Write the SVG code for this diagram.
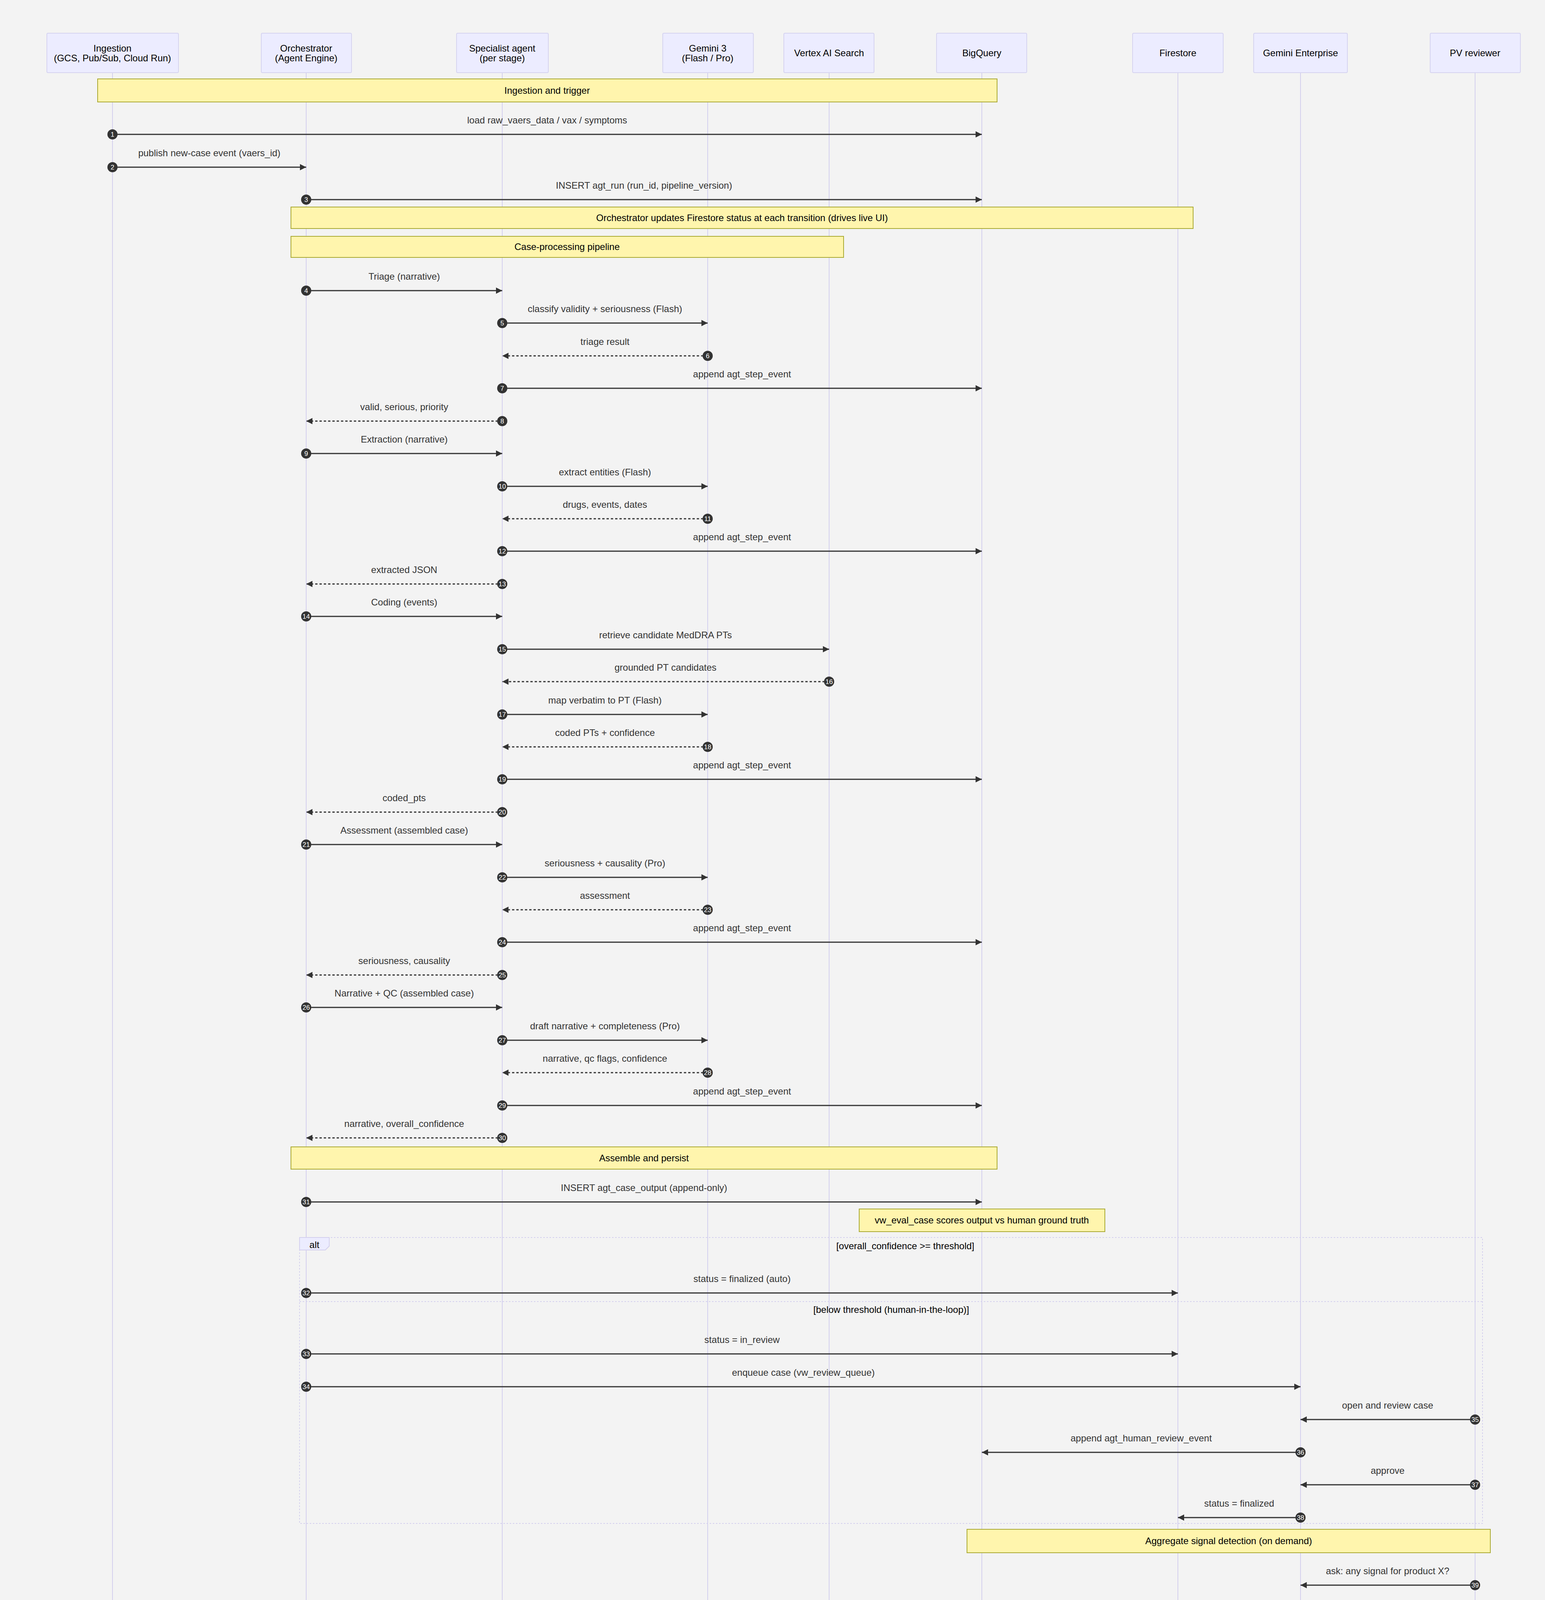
<svg xmlns="http://www.w3.org/2000/svg" width="3956" height="4838" viewBox="0 0 3956 4838">
<style>
text{font-family:"Liberation Sans",Arial,sans-serif;font-size:24px;fill:#333;text-anchor:middle}
.actor{fill:#ececff;stroke:#d6d4f0;stroke-width:2}
.atext{fill:#000}
.life{stroke:#d4d0ee;stroke-width:2}
.note{fill:#fff5ad;stroke:#aaaa33;stroke-width:2}
.ntext{fill:#000}
.m{stroke:#333;stroke-width:3;fill:none;marker-end:url(#ah)}
.d{stroke-dasharray:6 5}
.num{fill:#333}
.nt{fill:#fff;font-size:17px}
.frame{fill:none;stroke:#d4d0ee;stroke-width:2;stroke-dasharray:4 4}
</style>
<defs>
<marker id="ah" markerUnits="userSpaceOnUse" markerWidth="18" markerHeight="18" refX="16" refY="8" orient="auto"><path d="M0,0 L16,8 L0,16 z" fill="#333"/></marker>
</defs>
<rect width="3956" height="4838" fill="#f3f3f3"/>
<g id="lifelines">
<line class="life" x1="288" y1="186" x2="288" y2="4677"/>
<line class="life" x1="784" y1="186" x2="784" y2="4677"/>
<line class="life" x1="1286" y1="186" x2="1286" y2="4677"/>
<line class="life" x1="1812" y1="186" x2="1812" y2="4677"/>
<line class="life" x1="2123" y1="186" x2="2123" y2="4677"/>
<line class="life" x1="2514" y1="186" x2="2514" y2="4677"/>
<line class="life" x1="3016" y1="186" x2="3016" y2="4677"/>
<line class="life" x1="3330" y1="186" x2="3330" y2="4677"/>
<line class="life" x1="3777" y1="186" x2="3777" y2="4677"/>
</g>
<g id="actor-ingestion"><rect class="actor" x="120" y="85" width="337" height="101" rx="3"/><text class="atext" x="288" y="132">Ingestion</text><text class="atext" x="288" y="157">(GCS, Pub/Sub, Cloud Run)</text>
<rect class="actor" x="120" y="4677" width="337" height="101" rx="3"/><text class="atext" x="288" y="4724">Ingestion</text><text class="atext" x="288" y="4749">(GCS, Pub/Sub, Cloud Run)</text></g>
<g id="actor-orchestrator"><rect class="actor" x="669" y="85" width="231" height="101" rx="3"/><text class="atext" x="784" y="132">Orchestrator</text><text class="atext" x="784" y="157">(Agent Engine)</text>
<rect class="actor" x="669" y="4677" width="231" height="101" rx="3"/><text class="atext" x="784" y="4724">Orchestrator</text><text class="atext" x="784" y="4749">(Agent Engine)</text></g>
<g id="actor-specialist"><rect class="actor" x="1169" y="85" width="235" height="101" rx="3"/><text class="atext" x="1286" y="132">Specialist agent</text><text class="atext" x="1286" y="157">(per stage)</text>
<rect class="actor" x="1169" y="4677" width="235" height="101" rx="3"/><text class="atext" x="1286" y="4724">Specialist agent</text><text class="atext" x="1286" y="4749">(per stage)</text></g>
<g id="actor-gemini"><rect class="actor" x="1697" y="85" width="232" height="101" rx="3"/><text class="atext" x="1812" y="132">Gemini 3</text><text class="atext" x="1812" y="157">(Flash / Pro)</text>
<rect class="actor" x="1697" y="4677" width="232" height="101" rx="3"/><text class="atext" x="1812" y="4724">Gemini 3</text><text class="atext" x="1812" y="4749">(Flash / Pro)</text></g>
<g id="actor-vertex"><rect class="actor" x="2007" y="85" width="231" height="101" rx="3"/><text class="atext" x="2123" y="144">Vertex AI Search</text>
<rect class="actor" x="2007" y="4677" width="231" height="101" rx="3"/><text class="atext" x="2123" y="4736">Vertex AI Search</text></g>
<g id="actor-bigquery"><rect class="actor" x="2398" y="85" width="231" height="101" rx="3"/><text class="atext" x="2514" y="144">BigQuery</text>
<rect class="actor" x="2398" y="4677" width="231" height="101" rx="3"/><text class="atext" x="2514" y="4736">BigQuery</text></g>
<g id="actor-firestore"><rect class="actor" x="2900" y="85" width="232" height="101" rx="3"/><text class="atext" x="3016" y="144">Firestore</text>
<rect class="actor" x="2900" y="4677" width="232" height="101" rx="3"/><text class="atext" x="3016" y="4736">Firestore</text></g>
<g id="actor-enterprise"><rect class="actor" x="3210" y="85" width="240" height="101" rx="3"/><text class="atext" x="3330" y="144">Gemini Enterprise</text>
<rect class="actor" x="3210" y="4677" width="240" height="101" rx="3"/><text class="atext" x="3330" y="4736">Gemini Enterprise</text></g>
<g id="actor-reviewer"><rect class="actor" x="3662" y="85" width="231" height="101" rx="3"/><text class="atext" x="3777" y="144">PV reviewer</text>
<rect class="actor" x="3662" y="4677" width="231" height="101" rx="3"/><text class="atext" x="3777" y="4736">PV reviewer</text></g>

<g id="note-ingestion"><rect class="note" x="250" y="202" width="2303" height="59"/><text class="ntext" x="1401" y="240">Ingestion and trigger</text></g>
<g id="note-firestore"><rect class="note" x="745" y="530" width="2310" height="55"/><text class="ntext" x="1900" y="566">Orchestrator updates Firestore status at each transition (drives live UI)</text></g>
<g id="note-pipeline"><rect class="note" x="745" y="605" width="1415" height="54"/><text class="ntext" x="1452" y="640">Case-processing pipeline</text></g>
<g id="note-assemble"><rect class="note" x="745" y="2936" width="1808" height="57"/><text class="ntext" x="1649" y="2973">Assemble and persist</text></g>
<g id="note-eval"><rect class="note" x="2200" y="3095" width="629" height="58"/><text class="ntext" x="2514" y="3132">vw_eval_case scores output vs human ground truth</text></g>
<g id="alt-frame"><rect class="frame" x="767" y="3168" width="3029" height="732"/><line class="frame" x1="767" y1="3332" x2="3796" y2="3332"/>
<path d="M767,3168 H843 V3190 L833,3200 H767 z" fill="#ececff" stroke="#d4d0ee" stroke-width="2"/>
<text class="ntext" x="805" y="3195">alt</text>
<text class="ntext" x="2318" y="3198">[overall_confidence &gt;= threshold]</text>
<text class="ntext" x="2282" y="3361">[below threshold (human-in-the-loop)]</text></g>
<g id="note-aggregate"><rect class="note" x="2476" y="3915" width="1340" height="60"/><text class="ntext" x="3146" y="3953">Aggregate signal detection (on demand)</text></g>

<g id="connectors">
<line class="m" x1="288" y1="344" x2="2514" y2="344"/><text x="1401" y="316">load raw_vaers_data / vax / symptoms</text>
<line class="m" x1="288" y1="428" x2="784" y2="428"/><text x="536" y="400">publish new-case event (vaers_id)</text>
<line class="m" x1="784" y1="511" x2="2514" y2="511"/><text x="1649" y="483">INSERT agt_run (run_id, pipeline_version)</text>
<line class="m" x1="784" y1="744" x2="1286" y2="744"/><text x="1035" y="716">Triage (narrative)</text>
<line class="m" x1="1286" y1="827" x2="1812" y2="827"/><text x="1549" y="799">classify validity + seriousness (Flash)</text>
<line class="m d" x1="1812" y1="911" x2="1286" y2="911"/><text x="1549" y="883">triage result</text>
<line class="m" x1="1286" y1="994" x2="2514" y2="994"/><text x="1900" y="966">append agt_step_event</text>
<line class="m d" x1="1286" y1="1078" x2="784" y2="1078"/><text x="1035" y="1050">valid, serious, priority</text>
<line class="m" x1="784" y1="1161" x2="1286" y2="1161"/><text x="1035" y="1133">Extraction (narrative)</text>
<line class="m" x1="1286" y1="1245" x2="1812" y2="1245"/><text x="1549" y="1217">extract entities (Flash)</text>
<line class="m d" x1="1812" y1="1328" x2="1286" y2="1328"/><text x="1549" y="1300">drugs, events, dates</text>
<line class="m" x1="1286" y1="1411" x2="2514" y2="1411"/><text x="1900" y="1383">append agt_step_event</text>
<line class="m d" x1="1286" y1="1495" x2="784" y2="1495"/><text x="1035" y="1467">extracted JSON</text>
<line class="m" x1="784" y1="1578" x2="1286" y2="1578"/><text x="1035" y="1550">Coding (events)</text>
<line class="m" x1="1286" y1="1662" x2="2123" y2="1662"/><text x="1704" y="1634">retrieve candidate MedDRA PTs</text>
<line class="m d" x1="2123" y1="1745" x2="1286" y2="1745"/><text x="1704" y="1717">grounded PT candidates</text>
<line class="m" x1="1286" y1="1829" x2="1812" y2="1829"/><text x="1549" y="1801">map verbatim to PT (Flash)</text>
<line class="m d" x1="1812" y1="1912" x2="1286" y2="1912"/><text x="1549" y="1884">coded PTs + confidence</text>
<line class="m" x1="1286" y1="1995" x2="2514" y2="1995"/><text x="1900" y="1967">append agt_step_event</text>
<line class="m d" x1="1286" y1="2079" x2="784" y2="2079"/><text x="1035" y="2051">coded_pts</text>
<line class="m" x1="784" y1="2162" x2="1286" y2="2162"/><text x="1035" y="2134">Assessment (assembled case)</text>
<line class="m" x1="1286" y1="2246" x2="1812" y2="2246"/><text x="1549" y="2218">seriousness + causality (Pro)</text>
<line class="m d" x1="1812" y1="2329" x2="1286" y2="2329"/><text x="1549" y="2301">assessment</text>
<line class="m" x1="1286" y1="2412" x2="2514" y2="2412"/><text x="1900" y="2384">append agt_step_event</text>
<line class="m d" x1="1286" y1="2496" x2="784" y2="2496"/><text x="1035" y="2468">seriousness, causality</text>
<line class="m" x1="784" y1="2579" x2="1286" y2="2579"/><text x="1035" y="2551">Narrative + QC (assembled case)</text>
<line class="m" x1="1286" y1="2663" x2="1812" y2="2663"/><text x="1549" y="2635">draft narrative + completeness (Pro)</text>
<line class="m d" x1="1812" y1="2746" x2="1286" y2="2746"/><text x="1549" y="2718">narrative, qc flags, confidence</text>
<line class="m" x1="1286" y1="2830" x2="2514" y2="2830"/><text x="1900" y="2802">append agt_step_event</text>
<line class="m d" x1="1286" y1="2913" x2="784" y2="2913"/><text x="1035" y="2885">narrative, overall_confidence</text>
<line class="m" x1="784" y1="3077" x2="2514" y2="3077"/><text x="1649" y="3049">INSERT agt_case_output (append-only)</text>
<line class="m" x1="784" y1="3310" x2="3016" y2="3310"/><text x="1900" y="3282">status = finalized (auto)</text>
<line class="m" x1="784" y1="3466" x2="3016" y2="3466"/><text x="1900" y="3438">status = in_review</text>
<line class="m" x1="784" y1="3550" x2="3330" y2="3550"/><text x="2057" y="3522">enqueue case (vw_review_queue)</text>
<line class="m" x1="3777" y1="3634" x2="3330" y2="3634"/><text x="3553" y="3606">open and review case</text>
<line class="m" x1="3330" y1="3718" x2="2514" y2="3718"/><text x="2922" y="3690">append agt_human_review_event</text>
<line class="m" x1="3777" y1="3801" x2="3330" y2="3801"/><text x="3553" y="3773">approve</text>
<line class="m" x1="3330" y1="3885" x2="3016" y2="3885"/><text x="3173" y="3857">status = finalized</text>
<line class="m" x1="3777" y1="4058" x2="3330" y2="4058"/><text x="3553" y="4030">ask: any signal for product X?</text>
<line class="m" x1="3330" y1="4141" x2="1286" y2="4141"/><text x="2308" y="4113">invoke Signal agent</text>
<line class="m" x1="1286" y1="4225" x2="1812" y2="4225"/><text x="1549" y="4197">generate SQL (Pro, text-to-SQL)</text>
<line class="m d" x1="1812" y1="4308" x2="1286" y2="4308"/><text x="1549" y="4280">query</text>
<line class="m" x1="1286" y1="4392" x2="2514" y2="4392"/><text x="1900" y="4364">run vw_signal_metrics (PRR, ROR)</text>
<line class="m d" x1="2514" y1="4475" x2="1286" y2="4475"/><text x="1900" y="4447">ranked drug-event pairs</text>
<line class="m d" x1="1286" y1="4559" x2="3330" y2="4559"/><text x="2308" y="4531">signal summary + flags</text>
<line class="m d" x1="3330" y1="4642" x2="3777" y2="4642"/><text x="3553" y="4614">signal dashboard</text>
</g>
<g id="sequence-numbers">
<g class="num">
<circle cx="288" cy="344" r="13"/><circle cx="288" cy="428" r="13"/><circle cx="784" cy="511" r="13"/>
<circle cx="784" cy="744" r="13"/><circle cx="1286" cy="827" r="13"/><circle cx="1812" cy="911" r="13"/><circle cx="1286" cy="994" r="13"/><circle cx="1286" cy="1078" r="13"/>
<circle cx="784" cy="1161" r="13"/><circle cx="1286" cy="1245" r="13"/><circle cx="1812" cy="1328" r="13"/><circle cx="1286" cy="1411" r="13"/><circle cx="1286" cy="1495" r="13"/>
<circle cx="784" cy="1578" r="13"/><circle cx="1286" cy="1662" r="13"/><circle cx="2123" cy="1745" r="13"/><circle cx="1286" cy="1829" r="13"/><circle cx="1812" cy="1912" r="13"/>
<circle cx="1286" cy="1995" r="13"/><circle cx="1286" cy="2079" r="13"/><circle cx="784" cy="2162" r="13"/><circle cx="1286" cy="2246" r="13"/><circle cx="1812" cy="2329" r="13"/>
<circle cx="1286" cy="2412" r="13"/><circle cx="1286" cy="2496" r="13"/><circle cx="784" cy="2579" r="13"/><circle cx="1286" cy="2663" r="13"/><circle cx="1812" cy="2746" r="13"/>
<circle cx="1286" cy="2830" r="13"/><circle cx="1286" cy="2913" r="13"/><circle cx="784" cy="3077" r="13"/><circle cx="784" cy="3310" r="13"/><circle cx="784" cy="3466" r="13"/>
<circle cx="784" cy="3550" r="13"/><circle cx="3777" cy="3634" r="13"/><circle cx="3330" cy="3718" r="13"/><circle cx="3777" cy="3801" r="13"/><circle cx="3330" cy="3885" r="13"/>
<circle cx="3777" cy="4058" r="13"/><circle cx="3330" cy="4141" r="13"/><circle cx="1286" cy="4225" r="13"/><circle cx="1812" cy="4308" r="13"/><circle cx="1286" cy="4392" r="13"/>
<circle cx="2514" cy="4475" r="13"/><circle cx="1286" cy="4559" r="13"/><circle cx="3330" cy="4642" r="13"/>
</g>
<g class="nt">
<text class="nt" x="288" y="350">1</text><text class="nt" x="288" y="434">2</text><text class="nt" x="784" y="517">3</text>
<text class="nt" x="784" y="750">4</text><text class="nt" x="1286" y="833">5</text><text class="nt" x="1812" y="917">6</text><text class="nt" x="1286" y="1000">7</text><text class="nt" x="1286" y="1084">8</text>
<text class="nt" x="784" y="1167">9</text><text class="nt" x="1286" y="1251">10</text><text class="nt" x="1812" y="1334">11</text><text class="nt" x="1286" y="1417">12</text><text class="nt" x="1286" y="1501">13</text>
<text class="nt" x="784" y="1584">14</text><text class="nt" x="1286" y="1668">15</text><text class="nt" x="2123" y="1751">16</text><text class="nt" x="1286" y="1835">17</text><text class="nt" x="1812" y="1918">18</text>
<text class="nt" x="1286" y="2001">19</text><text class="nt" x="1286" y="2085">20</text><text class="nt" x="784" y="2168">21</text><text class="nt" x="1286" y="2252">22</text><text class="nt" x="1812" y="2335">23</text>
<text class="nt" x="1286" y="2418">24</text><text class="nt" x="1286" y="2502">25</text><text class="nt" x="784" y="2585">26</text><text class="nt" x="1286" y="2669">27</text><text class="nt" x="1812" y="2752">28</text>
<text class="nt" x="1286" y="2836">29</text><text class="nt" x="1286" y="2919">30</text><text class="nt" x="784" y="3083">31</text><text class="nt" x="784" y="3316">32</text><text class="nt" x="784" y="3472">33</text>
<text class="nt" x="784" y="3556">34</text><text class="nt" x="3777" y="3640">35</text><text class="nt" x="3330" y="3724">36</text><text class="nt" x="3777" y="3807">37</text><text class="nt" x="3330" y="3891">38</text>
<text class="nt" x="3777" y="4064">39</text><text class="nt" x="3330" y="4147">40</text><text class="nt" x="1286" y="4231">41</text><text class="nt" x="1812" y="4314">42</text><text class="nt" x="1286" y="4398">43</text>
<text class="nt" x="2514" y="4481">44</text><text class="nt" x="1286" y="4565">45</text><text class="nt" x="3330" y="4648">46</text>
</g>
</g>
</svg>
